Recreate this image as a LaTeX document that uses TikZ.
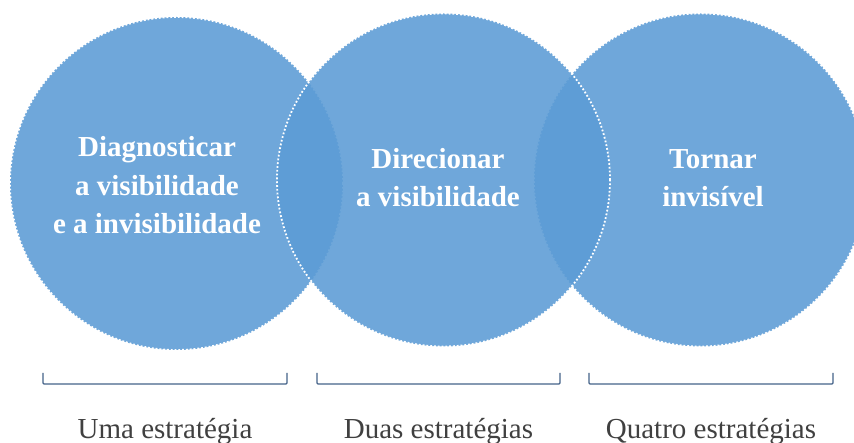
\documentclass[tikz,border=0pt]{standalone}
\usepackage{fontspec}
\setmainfont{Liberation Serif}

\definecolor{circblue}{RGB}{91,155,213}
\definecolor{braceblue}{RGB}{68,98,136}
\definecolor{labelgray}{RGB}{64,64,64}

\tikzset{
  bubble/.style={circle, minimum size=333pt, inner sep=0pt, fill=circblue,
    fill opacity=0.88, draw=white, dotted, line width=1.8pt},
  bubbletext/.style={text=white, font=\bfseries\fontsize{29}{38.5}\selectfont,
    align=center, anchor=base},
  counttext/.style={text=labelgray, font=\fontsize{29}{35}\selectfont, anchor=base},
  brace/.style={draw=braceblue, line width=1.1pt, rounded corners=1pt}
}

\begin{document}
\begin{tikzpicture}[x=1pt, y=-1pt]
    \useasboundingbox (0,0) rectangle (854,443);

    % circles, the middle one on top
    \node[bubble] (diag) at (176.5,183.5) {};
    \node[bubble] (torn) at (700.5,180) {};
    \node[bubble] (dire) at (443.5,180) {};

    % base anchor sits on the last line
    \node[bubbletext] (diagtxt) at (157,234) {Diagnosticar\\a visibilidade\\e a invisibilidade};
    \node[bubbletext] (diretxt) at (438,207) {Direcionar\\a visibilidade};
    \node[bubbletext] (torntxt) at (713,207) {Tornar\\invisível};

    \foreach \a/\b in {43/287, 317/560, 589/833}
      \draw[brace] (\a,373) -- (\a,384) -- (\b,384) -- (\b,373);

    \node[counttext] (uma) at (165,438) {Uma estratégia};
    \node[counttext] (duas) at (438.5,438) {Duas estratégias};
    \node[counttext] (quatro) at (711,438) {Quatro estratégias};
\end{tikzpicture}
\end{document}
